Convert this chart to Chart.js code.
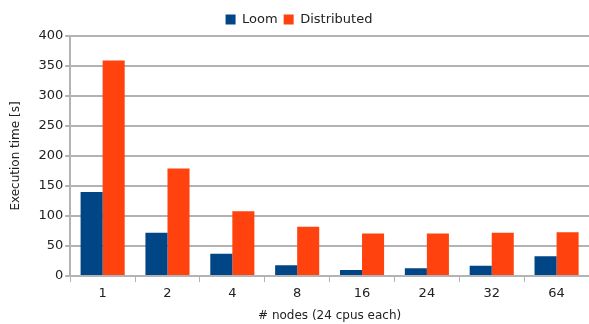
<!DOCTYPE html>
<html>
<head>
<meta charset="utf-8">
<script src="https://cdn.jsdelivr.net/npm/chart.js@4"></script>
<style>
  html, body { margin: 0; padding: 0; background: #fff; }
  #wrap { width: 589px; height: 324px; }
</style>
</head>
<body>
<div id="wrap"><canvas id="chart"></canvas></div>
<script>
const nodes = ["1", "2", "4", "8", "16", "24", "32", "64"];
const loom = [140, 72, 37, 18, 10, 13, 17, 33];
const distributed = [359, 179, 108, 82, 71, 71, 72, 73];
const yTicks = [0, 50, 100, 150, 200, 250, 300, 350, 400];

Chart.defaults.font.family = "'DejaVu Sans', sans-serif";
Chart.defaults.color = "#222";

const gridColor = "#b3b3b3";

new Chart(document.getElementById("chart").getContext("2d"), {
  type: "bar",
  data: {
    labels: nodes,
    datasets: [
      {
        label: "Loom",
        data: loom,
        backgroundColor: "#004586",
      },
      {
        label: "Distributed",
        data: distributed,
        backgroundColor: "#ff420e",
      },
    ],
  },
  options: {
    responsive: true,
    maintainAspectRatio: false,
    animation: false,
    layout: { padding: { top: 7, right: 0, bottom: 1, left: 9 } },
    datasets: {
      bar: { categoryPercentage: 0.68, barPercentage: 1.0 },
    },
    plugins: {
      legend: {
        position: "top",
        labels: {
          boxWidth: 10,
          boxHeight: 10,
          padding: 6,
          font: { size: 13 },
          color: "#222",
        },
      },
      tooltip: { enabled: false },
    },
    scales: {
      x: {
        grid: {
          display: true,
          drawOnChartArea: false,
          offset: true,
          color: gridColor,
          tickLength: 6,
          lineWidth: 1,
        },
        border: { color: gridColor, width: 2 },
        ticks: { font: { size: 13 }, color: "#222", padding: 4 },
        title: {
          display: true,
          text: "# nodes (24 cpus each)",
          font: { size: 12 },
          color: "#222",
          padding: { top: 3, bottom: 0 },
        },
      },
      y: {
        min: 0,
        max: 400,
        afterBuildTicks: (axis) => {
          axis.ticks = yTicks.map((v) => ({ value: v }));
        },
        grid: {
          color: gridColor,
          lineWidth: 2,
          tickLength: 5,
        },
        border: { color: gridColor, width: 2 },
        ticks: { font: { size: 13 }, color: "#222", padding: 2 },
        title: {
          display: true,
          text: "Execution time [s]",
          font: { size: 12 },
          color: "#222",
          padding: { top: 0, bottom: 13 },
        },
      },
    },
  },
});
</script>
</body>
</html>
